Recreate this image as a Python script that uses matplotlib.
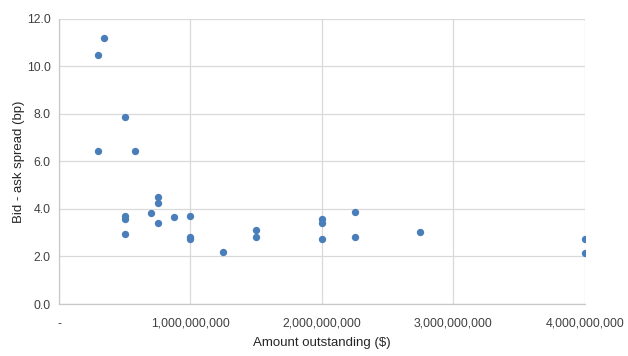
import matplotlib
matplotlib.use("Agg")
import matplotlib.pyplot as plt
from matplotlib.ticker import FuncFormatter, MultipleLocator

amount = [0.30e9, 0.34e9, 0.30e9, 0.50e9, 0.58e9,
          0.50e9, 0.50e9, 0.50e9, 0.70e9, 0.75e9, 0.75e9, 0.75e9,
          0.875e9, 1.0e9, 1.0e9, 1.0e9, 1.25e9, 1.5e9, 1.5e9,
          2.0e9, 2.0e9, 2.0e9, 2.25e9, 2.25e9, 2.75e9, 4.0e9, 4.0e9]
spread = [10.47, 11.19, 6.44, 7.86, 6.44,
          3.71, 3.57, 2.93, 3.82, 4.49, 4.24, 3.40,
          3.65, 3.69, 2.83, 2.72, 2.18, 3.10, 2.81,
          3.57, 3.40, 2.72, 3.86, 2.81, 3.02, 2.72, 2.13]

plt.rcParams['font.family'] = ['Liberation Sans', 'DejaVu Sans']
fig = plt.figure(figsize=(6.28, 3.56), dpi=100)
ax = fig.add_axes([0.094, 0.146, 0.837, 0.801])

ax.scatter(amount, spread, s=28, color='#4a7ebb', zorder=3, linewidths=0)

ax.set_xlim(0, 4e9)
ax.set_ylim(0, 12)
ax.xaxis.set_major_locator(MultipleLocator(1e9))
ax.yaxis.set_major_locator(MultipleLocator(2))
ax.xaxis.set_major_formatter(FuncFormatter(lambda v, p: '-' if v == 0 else f"{v:,.0f}"))
ax.yaxis.set_major_formatter(FuncFormatter(lambda v, p: f"{v:.1f}"))
ax.grid(True, color='#d9d9d9', linewidth=0.9, zorder=0)
ax.set_axisbelow(True)
for s in ['top', 'right']:
    ax.spines[s].set_visible(False)
for s in ['left', 'bottom']:
    ax.spines[s].set_color('#c8c8c8')
    ax.spines[s].set_linewidth(0.9)
ax.tick_params(axis='both', length=0, labelsize=8.8, colors='#404040')
ax.tick_params(axis='x', pad=10)
ax.tick_params(axis='y', pad=6)
ax.set_xlabel('Amount outstanding ($)', fontsize=9.5, color='#262626', labelpad=5)
ax.set_ylabel('Bid - ask spread (bp)', fontsize=9.5, color='#262626', labelpad=1)

fig.savefig('out.png', dpi=100)
